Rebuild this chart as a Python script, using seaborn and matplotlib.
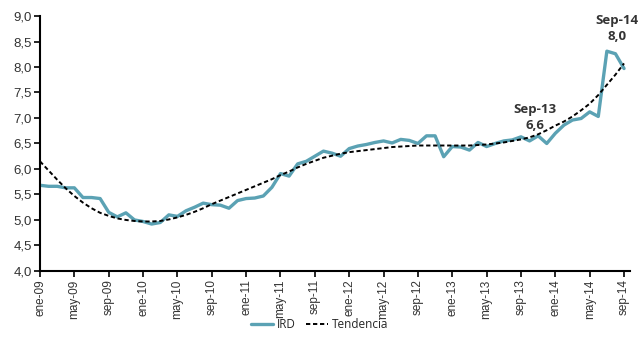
import numpy as np
import pandas as pd
import matplotlib
matplotlib.use("Agg")
import matplotlib.pyplot as plt
import seaborn as sns

# monthly series ene-09 .. sep-14
months = ["ene", "feb", "mar", "abr", "may", "jun", "jul", "ago", "sep", "oct", "nov", "dic"]
years = ["09", "10", "11", "12", "13", "14"]
ird = [5.68, 5.66, 5.66, 5.63, 5.63, 5.44, 5.44, 5.42, 5.15, 5.06, 5.14, 5.00,
       4.97, 4.92, 4.95, 5.10, 5.07, 5.18, 5.25, 5.33, 5.30, 5.29, 5.23, 5.38,
       5.42, 5.43, 5.47, 5.64, 5.91, 5.86, 6.10, 6.15, 6.25, 6.35, 6.31, 6.25,
       6.40, 6.45, 6.48, 6.52, 6.55, 6.51, 6.58, 6.56, 6.50, 6.65, 6.65, 6.24,
       6.44, 6.43, 6.37, 6.52, 6.44, 6.50, 6.55, 6.57, 6.63, 6.55, 6.65, 6.50,
       6.70, 6.86, 6.96, 6.99, 7.12, 7.03, 8.31, 8.26, 7.97]
# trend line
tendencia = [6.15, 5.97, 5.79, 5.62, 5.47, 5.34, 5.23, 5.14, 5.08, 5.03, 5.00, 4.98,
             4.97, 4.97, 4.98, 5.01, 5.05, 5.10, 5.16, 5.23, 5.31, 5.38, 5.45, 5.52,
             5.59, 5.66, 5.73, 5.80, 5.88, 5.95, 6.03, 6.10, 6.16, 6.22, 6.26, 6.30,
             6.33, 6.35, 6.37, 6.39, 6.41, 6.43, 6.44, 6.45, 6.46, 6.46, 6.46, 6.46,
             6.46, 6.46, 6.46, 6.47, 6.48, 6.50, 6.52, 6.55, 6.58, 6.62, 6.68, 6.76,
             6.85, 6.93, 7.03, 7.15, 7.28, 7.45, 7.65, 7.85, 8.07]
yticks = [4.0, 4.5, 5.0, 5.5, 6.0, 6.5, 7.0, 7.5, 8.0, 8.5, 9.0]

labels = [m + "-" + y for y in years for m in months][:len(ird)]
df = pd.DataFrame({"t": np.arange(len(ird)), "IRD": ird, "Tendencia": tendencia, "mes": labels})

sns.set_style("ticks")
plt.rcParams["font.family"] = ["Liberation Sans", "DejaVu Sans"]

fig = plt.figure(figsize=(6.39, 3.37), dpi=100)
ax = fig.add_axes([0.0626, 0.196, 0.9234, 0.7565])

teal = "#5ba2b4"
sns.lineplot(data=df, x="t", y="IRD", ax=ax, color=teal, lw=2.4, label="IRD")
sns.lineplot(data=df, x="t", y="Tendencia", ax=ax, color="black", lw=1.4,
             linestyle=(0, (2.2, 1.4)), label="Tendencia")

ax.set_xlim(0, 68.7)
ax.set_ylim(4.0, 9.0)
ax.set_yticks(yticks)
ax.set_yticklabels([f"{v:.1f}".replace(".", ",") for v in yticks], fontsize=9.5, color="#333333")
ax.set_xticks(df["t"][::4])
ax.set_xticklabels(df["mes"][::4], rotation=90, fontsize=8.5, color="#333333")
ax.set_xlabel("")
ax.set_ylabel("")
ax.tick_params(axis="both", direction="out", length=4, width=1.2, color="black", pad=2)
sns.despine(ax=ax)
for s in ["left", "bottom"]:
    ax.spines[s].set_linewidth(1.5)
    ax.spines[s].set_color("black")

ann_font = dict(fontsize=9.5, fontweight="bold", color="#333333", family=["Open Sans", "DejaVu Sans"],
                ha="center", va="center", linespacing=1.3)
ax.text(57.6, 7.0, "Sep-13\n6,6", **ann_font)
ax.text(67.2, 8.75, "Sep-14\n8,0", **ann_font)

ax.get_legend().remove()
h, l = ax.get_legend_handles_labels()
fig.legend(h, l, loc="center", bbox_to_anchor=(0.5, 0.038), ncol=2, frameon=False,
           prop=dict(family=["Open Sans", "DejaVu Sans"], size=8.5), handlelength=1.9,
           columnspacing=0.9, handletextpad=0.3)

fig.savefig("out.png", dpi=100)
